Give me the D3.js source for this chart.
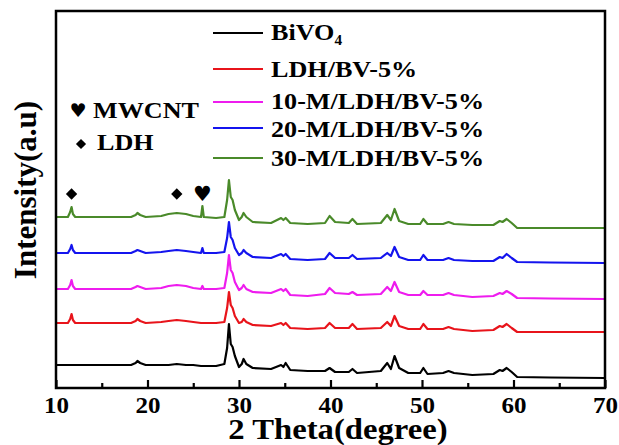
<!DOCTYPE html>
<html>
<head>
<meta charset="utf-8">
<script src="https://cdn.jsdelivr.net/npm/d3@7"></script>
<style>
body { margin: 0; background: #fff; }
text { font-family: "Liberation Serif", "Times New Roman", serif; font-weight: bold; fill: #000; }
</style>
</head>
<body>
<svg id="svg" width="619" height="445"></svg>
<script>
// 2 theta grid (degree) shared by every pattern
var theta = [10, 11.3, 11.55, 11.7, 11.85, 12.1, 15, 18.2, 18.7, 18.9,
    19.2, 19.8, 21.5, 22.3, 23.2, 24.2, 25.0, 25.85, 26.0, 26.15,
    27.5, 28.4, 28.7, 28.9, 29.1, 29.3, 29.55, 30.0, 30.3, 30.5,
    30.8, 31.5, 33.5, 34.6, 34.85, 35.1, 35.6, 37.5, 39.4, 39.9,
    40.5, 42.0, 42.4, 42.9, 45.5, 46.2, 46.6, 47.0, 47.5, 48.5,
    49.8, 50.15, 50.6, 52.3, 52.9, 53.5, 55.5, 57.8, 58.5, 58.8,
    59.25, 59.8, 60.4, 64, 70];

// intensities (a.u.), already stacked
var bivo4 = [23, 23, 23, 23, 23, 23, 23, 23, 25, 27,
    25, 23, 23, 23, 24, 23, 23, 22, 22, 22,
    22, 24, 40, 64, 44, 41, 32, 21, 24, 29,
    24, 20, 19, 23, 21, 25, 18, 17, 17, 20,
    16, 16, 19, 15, 17, 25, 19, 32, 20, 15,
    15, 20, 14, 15, 17, 15, 13, 14, 18, 17,
    20, 16, 11, 10.5, 10];
var ldhBv = [65, 65, 69, 74, 68, 65, 65, 65, 67, 69,
    67, 65, 66, 67, 68, 67, 66, 65, 65, 65,
    65, 66, 80, 96, 83, 80, 72, 65, 66, 69,
    66, 63, 62, 65, 63, 65, 60, 59, 60, 65,
    60, 60, 64, 59, 60, 66, 62, 72, 62, 59,
    59, 64, 59, 59, 61, 59, 57, 58, 62, 61,
    64, 60, 56, 56, 56];
var m10 = [99, 99, 103, 108, 102, 99, 99, 99, 101, 102,
    101, 99, 100, 102, 103, 102, 100, 99, 102, 99,
    99, 100, 115, 133, 118, 115, 106, 98, 100, 103,
    99, 96, 95, 99, 97, 99, 93, 92, 94, 100,
    95, 94, 96, 93, 94, 101, 97, 106, 96, 93,
    93, 97, 93, 93, 95, 93, 91, 92, 95, 94,
    97, 94, 90, 89.5, 89];
var m20 = [135, 135, 139, 143, 138, 135, 135, 135, 137, 138,
    137, 135, 136, 137, 138, 137, 136, 135, 140, 135,
    135, 136, 150, 166, 151, 148, 140, 133, 135, 138,
    135, 131, 130, 134, 132, 134, 129, 128, 129, 135,
    130, 130, 133, 129, 130, 135, 132, 141, 131, 128,
    128, 133, 128, 128, 130, 128, 127, 127, 131, 130,
    134, 130, 126, 125.5, 125];
var m30 = [171, 171, 176, 181, 174, 171, 171, 171, 173, 175,
    173, 171, 172, 174, 175, 174, 172, 171, 182, 171,
    170, 171, 188, 208, 191, 188, 178, 168, 171, 175,
    171, 166, 165, 170, 168, 170, 165, 164, 165, 172,
    166, 165, 169, 164, 165, 173, 168, 179, 167, 164,
    164, 169, 164, 164, 166, 164, 163, 163, 167, 166,
    169, 165, 160, 160, 160];

var names = ["BiVO4", "LDH/BV-5%", "10-M/LDH/BV-5%", "20-M/LDH/BV-5%", "30-M/LDH/BV-5%"];
var colors = ["#000000", "#e8141b", "#ee1cee", "#1414ee", "#4a8a2a"];
var xTicks = [10, 20, 30, 40, 50, 60, 70];
var xMinor = [15, 25, 35, 45, 55, 65];

// phase markers
var markTheta = [11.7, 23.2, 26.0];
var markKind = ["LDH", "LDH", "MWCNT"];
var markLevel = 194;

var series = [bivo4, ldhBv, m10, m20, m30];

var svg = d3.select("#svg");
var pLeft = 56, pRight = 605, pTop = 11, pBottom = 388;
var sx = 1.09; // the lettering in the picture is a bit wide

var x = d3.scaleLinear().domain([10, 70]).range([pLeft, pRight]);
var y = d3.scaleLinear().domain([0, 377]).range([pBottom, pTop]);

var line = d3.line()
    .x((d, i) => x(theta[i]))
    .y(d => y(d));

svg.append("g")
    .selectAll("path")
    .data(series)
    .enter()
    .append("path")
    .attr("d", line)
    .attr("fill", "none")
    .attr("stroke", (d, i) => colors[i])
    .attr("stroke-width", 2.2)
    .attr("stroke-linejoin", "round");

// axis, ticks pointing in
var axis = svg.append("g")
    .attr("transform", "translate(0," + pBottom + ")")
    .call(d3.axisBottom(x).tickValues(xTicks).tickSize(-8).tickPadding(9).tickFormat(d3.format("d")));
axis.select(".domain").remove();
axis.selectAll("line").attr("stroke-width", 2.2);
axis.selectAll("text")
    .style("font-size", "23px")
    .attr("transform", "scale(" + sx + ",1)");

var minor = svg.append("g")
    .attr("transform", "translate(0," + pBottom + ")")
    .call(d3.axisBottom(x).tickValues(xMinor).tickSize(-5).tickFormat(""));
minor.select(".domain").remove();
minor.selectAll("line").attr("stroke-width", 2.2);

svg.append("rect")
    .attr("x", pLeft)
    .attr("y", pTop)
    .attr("width", pRight - pLeft)
    .attr("height", pBottom - pTop)
    .attr("fill", "none")
    .attr("stroke", "#000")
    .attr("stroke-width", 2.5);

// titles
svg.append("text")
    .attr("transform", "translate(338,439) scale(" + sx + ",1)")
    .attr("text-anchor", "middle")
    .attr("font-size", 30)
    .text("2 Theta(degree)");

svg.append("text")
    .attr("transform", "translate(36,190) rotate(-90)")
    .attr("text-anchor", "middle")
    .attr("font-size", 31)
    .text("Intensity(a.u)");

// markers over the peaks
var marks = svg.append("g");
markTheta.forEach((t, i) => {
    if (markKind[i] === "LDH") {
        marks.append("path")
            .attr("d", d3.symbol(d3.symbolSquare, 64)())
            .attr("transform", "translate(" + x(t) + "," + y(markLevel) + ") rotate(45)");
    } else {
        marks.append("text")
            .attr("x", x(t))
            .attr("y", y(markLevel) + 7)
            .attr("text-anchor", "middle")
            .style("font-family", "DejaVu Sans")
            .attr("font-size", 21)
            .text("\u2665");
    }
});

// symbol key
svg.append("text")
    .attr("x", 78).attr("y", 117)
    .attr("text-anchor", "middle")
    .style("font-family", "DejaVu Sans")
    .attr("font-size", 19)
    .text("\u2665");
svg.append("text")
    .attr("transform", "translate(93,118) scale(" + sx + ",1)")
    .attr("font-size", 24)
    .text("MWCNT");
svg.append("path")
    .attr("d", d3.symbol(d3.symbolSquare, 52)())
    .attr("transform", "translate(81,144) rotate(45)");
svg.append("text")
    .attr("transform", "translate(97,150) scale(" + sx + ",1)")
    .attr("font-size", 24)
    .text("LDH");

// legend
var lineY = [33, 69, 102, 128, 158];
var textY = [40, 77, 109, 137, 166];
var legend = svg.append("g");
names.forEach((n, i) => {
    legend.append("line")
        .attr("x1", 213).attr("x2", 263)
        .attr("y1", lineY[i]).attr("y2", lineY[i])
        .attr("stroke", colors[i])
        .attr("stroke-width", 2);
    var t = legend.append("text")
        .attr("transform", "translate(271," + textY[i] + ") scale(" + sx + ",1)")
        .attr("font-size", 24);
    if (n === "BiVO4") {
        t.append("tspan").text("BiVO");
        t.append("tspan").attr("font-size", 14).attr("dy", 5).text("4");
    } else {
        t.text(n);
    }
});
</script>
</body>
</html>
